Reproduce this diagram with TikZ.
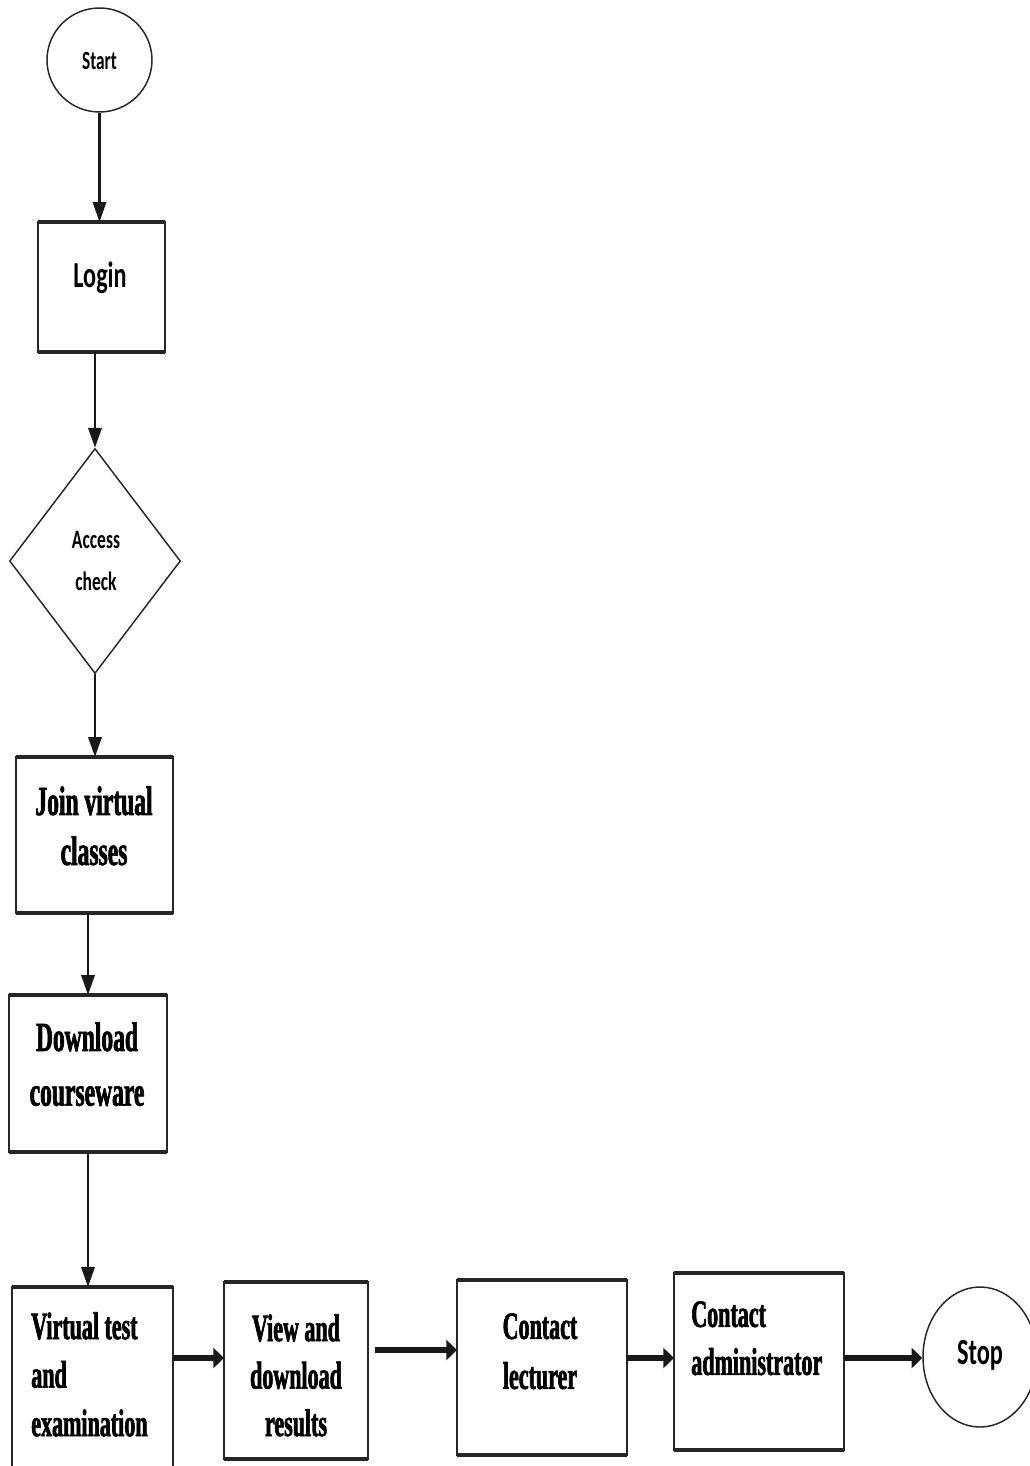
\documentclass[tikz,border=0pt]{standalone}
\usepackage{fontspec}
\usepackage{tikz}
\usetikzlibrary{arrows.meta,shapes.geometric}
\newfontfamily\calfont[FakeStretch=0.66]{Carlito}
\newfontfamily\tnrfont[FakeStretch=0.57,FakeBold=1.6]{Liberation Serif Bold}

\begin{document}
\begin{tikzpicture}[x=0.75pt,y=0.75pt,yscale=-1,xscale=1,
    box/.style={draw=black!85,line width=2pt,inner sep=0pt,outer sep=0pt},
    term/.style={ellipse,draw=black!85,line width=1.1pt,inner sep=0pt},
    dec/.style={diamond,draw=black!85,line width=1.1pt,inner sep=0pt},
    hedge/.style={draw=black!85,line width=3.4pt},
    varrow/.style={draw=black!90,line width=1.9pt,-{Triangle[length=15pt,width=10pt]}},
    harrow/.style={draw=black!90,line width=4pt,-{Triangle[length=8pt,width=15pt]}},
    caltext/.style={inner sep=0pt,align=center},
    tnrtext/.style={inner sep=0pt}]
        \useasboundingbox (0,0) rectangle (1029,1466);

        % shapes
        \node [term,minimum width=78.75pt,minimum height=78pt] (start) at (99.5,60) {};
        \node [box,minimum width=95.25pt,minimum height=97.5pt] (login) at (101.5,287) {};
        \node [dec,minimum width=128.25pt,minimum height=168.75pt] (access) at (95,561) {};
        \node [box,minimum width=117.75pt,minimum height=117pt] (join) at (94.5,835) {};
        \node [box,minimum width=118.5pt,minimum height=117.75pt] (download) at (88,1073.5) {};
        \node [box,minimum width=120.75pt,minimum height=159.75pt] (virtual) at (92.5,1393.5) {};
        \node [box,minimum width=108pt,minimum height=132.75pt] (view) at (296,1370.5) {};
        \node [box,minimum width=127.5pt,minimum height=131.25pt] (lecturer) at (542,1367.5) {};
        \node [box,minimum width=127.5pt,minimum height=132.75pt] (admin) at (759,1361.5) {};
        \node [term,minimum width=85.5pt,minimum height=105pt] (stop) at (980,1357) {};
        \foreach \b in {login,join,download,virtual,view,lecturer,admin}
            \draw [hedge] (\b.north west) -- (\b.north east) (\b.south west) -- (\b.south east);

        % connectors
        \coordinate (row) at (0,1358);
        \coordinate (row2) at (0,1350);
        \draw [varrow] (start.south) -- (start.south |- login.north);
        \draw [varrow] (access.north |- login.south) -- (access.north);
        \draw [varrow] (access.south) -- (access.south |- join.north);
        \draw [varrow] (download.north |- join.south) -- (download.north);
        \draw [varrow] (download.south) -- (download.south |- virtual.north);
        \draw [harrow] (virtual.east |- row) -- (view.west |- row);
        \draw [harrow,shorten <=5pt] (view.east |- row2) -- (lecturer.west |- row2);
        \draw [harrow] (lecturer.east |- row) -- (admin.west |- row);
        \draw [harrow] (admin.east |- row) -- (stop.west |- row);

        % texts
        \node [caltext,anchor=north,font=\calfont\bfseries\fontsize{19.7}{24}\selectfont] (startT) at (99.5,52) {Start};
        \node [caltext,anchor=north,font=\calfont\bfseries\fontsize{27.5}{33}\selectfont] (loginT) at (100,262) {Login};
        \node [caltext,anchor=north,font=\calfont\bfseries\fontsize{19.9}{31.5}\selectfont] (accessT) at (96,531) {Access\\check};
        \node [tnrtext,anchor=north,align=center,font=\tnrfont\fontsize{31}{37.5}\selectfont] (joinT) at (94,786) {Join virtual\\classes};
        \node [tnrtext,anchor=north,align=center,font=\tnrfont\fontsize{31}{41}\selectfont] (downloadT) at (87,1022) {Download\\courseware};
        \node [tnrtext,anchor=north west,align=left,font=\tnrfont\fontsize{29}{36.4}\selectfont] (virtualT) at (31,1312) {Virtual test\\and\\examination};
        \node [tnrtext,anchor=north,align=center,font=\tnrfont\fontsize{29}{35.6}\selectfont] (viewT) at (296,1314) {View and\\download\\results};
        \node [tnrtext,anchor=north,align=center,font=\tnrfont\fontsize{29}{37.5}\selectfont] (lecturerT) at (540,1313) {Contact\\lecturer};
        \node [tnrtext,anchor=north west,align=left,font=\tnrfont\fontsize{29}{36}\selectfont] (adminT) at (691,1301) {Contact\\administrator};
        \node [caltext,anchor=north,font=\calfont\bfseries\fontsize{27.7}{33}\selectfont] (stopT) at (980,1340) {Stop};
\end{tikzpicture}
\end{document}
